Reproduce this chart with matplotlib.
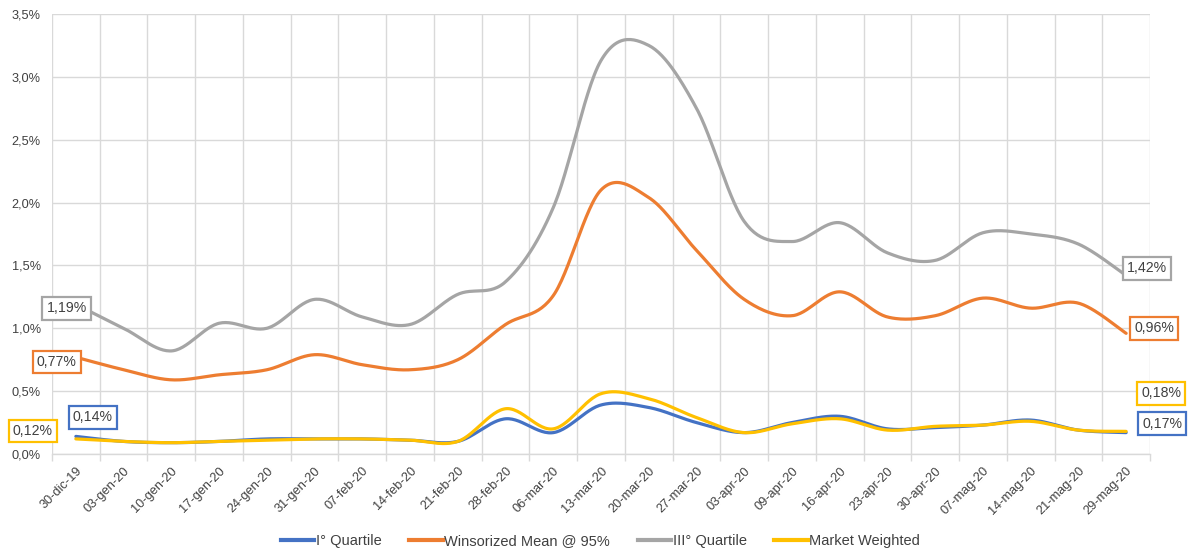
import numpy as np
import matplotlib
matplotlib.use("Agg")
import matplotlib.pyplot as plt
from matplotlib.ticker import FixedLocator, FuncFormatter

plt.rcParams['font.family'] = ['Liberation Sans', 'DejaVu Sans']

# weekly dates (Italian locale labels)
dates = ["30-dic-19", "03-gen-20", "10-gen-20", "17-gen-20", "24-gen-20", "31-gen-20",
         "07-feb-20", "14-feb-20", "21-feb-20", "28-feb-20", "06-mar-20", "13-mar-20",
         "20-mar-20", "27-mar-20", "03-apr-20", "09-apr-20", "16-apr-20", "23-apr-20",
         "30-apr-20", "07-mag-20", "14-mag-20", "21-mag-20", "29-mag-20"]

# values in %
q1 = [0.14, 0.10, 0.09, 0.10, 0.12, 0.12, 0.12, 0.11, 0.10, 0.28, 0.17, 0.39,
      0.37, 0.25, 0.17, 0.25, 0.30, 0.20, 0.21, 0.23, 0.27, 0.19, 0.17]
winsorized = [0.77, 0.67, 0.59, 0.63, 0.67, 0.79, 0.71, 0.67, 0.75, 1.03, 1.26, 2.10,
              2.04, 1.62, 1.23, 1.10, 1.29, 1.09, 1.10, 1.24, 1.16, 1.20, 0.96]
q3 = [1.19, 1.00, 0.82, 1.04, 1.00, 1.23, 1.09, 1.03, 1.27, 1.37, 1.96, 3.13,
      3.25, 2.75, 1.85, 1.69, 1.84, 1.60, 1.54, 1.76, 1.75, 1.67, 1.42]
market = [0.12, 0.10, 0.09, 0.10, 0.11, 0.12, 0.12, 0.11, 0.10, 0.36, 0.20, 0.48,
          0.44, 0.29, 0.17, 0.24, 0.28, 0.19, 0.22, 0.23, 0.26, 0.19, 0.18]

names = ["I° Quartile", "Winsorized Mean @ 95%", "III° Quartile", "Market Weighted"]
colors = ["#4472C4", "#ED7D31", "#A5A5A5", "#FFC000"]


def smooth(ys, steps=30):
    """Catmull-Rom style bezier through the points (spreadsheet 'smoothed line')."""
    ys = np.asarray(ys, dtype=float)
    xs = np.arange(len(ys), dtype=float)
    pts = np.column_stack([xs, ys])
    ext = np.vstack([pts[0], pts, pts[-1]])
    t = np.linspace(0, 1, steps)[:, None]
    out = []
    for i in range(len(pts) - 1):
        p0, p1, p2, p3 = ext[i], ext[i + 1], ext[i + 2], ext[i + 3]
        c1 = p1 + (p2 - p0) / 6
        c2 = p2 - (p3 - p1) / 6
        seg = ((1 - t) ** 3) * p1 + 3 * ((1 - t) ** 2) * t * c1 + 3 * (1 - t) * t ** 2 * c2 + t ** 3 * p2
        out.append(seg if i == 0 else seg[1:])
    out = np.vstack(out)
    return out[:, 0], out[:, 1]


fig = plt.figure(figsize=(11.89, 5.52), dpi=100)
ax = fig.add_axes([52 / 1189, 1 - 454 / 552, (1150 - 52) / 1189, (454 - 14) / 552])

series = [q1, winsorized, q3, market]
draw_order = [2, 1, 0, 3]
for k in draw_order:
    sx, sy = smooth(series[k])
    ax.plot(sx, sy, color=colors[k], lw=2.3, solid_capstyle='round', zorder=3 + k * 0.1)

n = len(dates)
ax.set_xlim(-0.5, n - 0.5)
ax.set_ylim(0, 3.5)
ax.set_yticks(np.arange(0, 3.51, 0.5))
ax.yaxis.set_major_formatter(FuncFormatter(lambda v, p: f"{v:.1f}%".replace(".", ",")))
ax.set_xticks(np.arange(n))
ax.set_xticklabels(dates, rotation=45, ha='right', rotation_mode='anchor')
ax.xaxis.set_minor_locator(FixedLocator(np.arange(n + 1) - 0.5))

ax.tick_params(axis='x', which='major', length=0, pad=8, labelsize=9.2, labelcolor='#404040')
ax.tick_params(axis='x', which='minor', length=5, color='#D9D9D9', width=1)
ax.tick_params(axis='y', length=0, pad=8, labelsize=9.2, labelcolor='#404040')

ax.grid(True, which='minor', axis='x', color='#D9D9D9', lw=1)
ax.grid(True, which='major', axis='y', color='#D9D9D9', lw=1)
ax.set_axisbelow(True)
for side in ['top', 'right', 'left']:
    ax.spines[side].set_visible(False)
ax.spines['bottom'].set_color('#D9D9D9')
ax.spines['bottom'].set_linewidth(1)

# first / last value labels (offsets in pixels)
label_offsets = {
    0: [(17, 19), (36, 9)],
    1: [(-19, -5), (28, 5)],
    2: [(-9, -4), (21, 7)],
    3: [(-43, 8), (35, 38)],
}
for k, vals in enumerate(series):
    for j, idx in enumerate([0, n - 1]):
        v = vals[idx]
        ax.annotate(f"{v:.2f}%".replace(".", ","), (idx, v), xytext=label_offsets[k][j],
                    textcoords='offset pixels', ha='center', va='center', fontsize=10.2,
                    color='#404040', zorder=6,
                    bbox=dict(boxstyle='square,pad=0.3', fc='white', ec=colors[k], lw=1.6),
                    annotation_clip=False)

handles = [plt.Line2D([], [], color=c, lw=3) for c in colors]
fig.legend(handles, names, loc='center', bbox_to_anchor=(0.505, 0.02), ncol=4,
           frameon=False, fontsize=10.5, handlelength=2.3, handletextpad=0.1,
           columnspacing=1.9, labelcolor='#404040')

fig.savefig("out.png", dpi=100)
